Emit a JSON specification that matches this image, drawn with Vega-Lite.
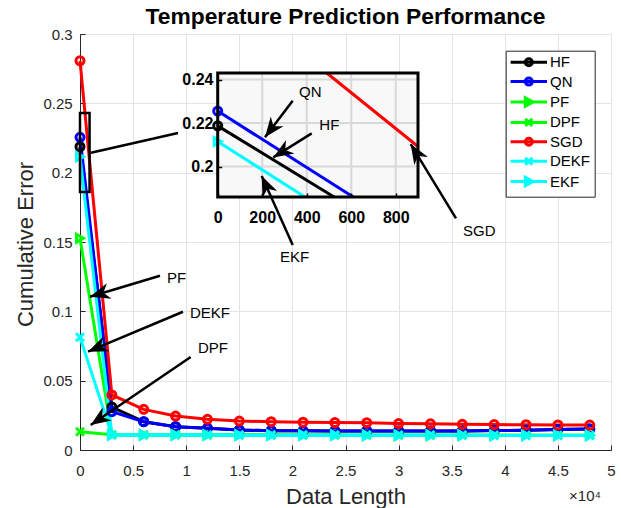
{
  "$schema": "https://vega.github.io/schema/vega-lite/v6.json",
  "width": 531,
  "height": 416,
  "autosize": {"type": "none"},
  "padding": {"left": 80, "top": 34, "right": 10, "bottom": 58},
  "background": "white",
  "config": {"view": {"stroke": null}, "font": "Liberation Sans"},
  "title": {
    "text": "Temperature Prediction Performance",
    "fontSize": 22.8,
    "fontWeight": "bold",
    "color": "black",
    "anchor": "middle",
    "baseline": "alphabetic",
    "offset": 2,
    "dy": 22
  },
  "datasets": {
    "perf": [
      {"series": "HF", "n": 0, "err": 0.2187}, {"series": "HF", "n": 3000, "err": 0.031}, {"series": "HF", "n": 6000, "err": 0.0204},
      {"series": "HF", "n": 9000, "err": 0.0168}, {"series": "HF", "n": 12000, "err": 0.0156}, {"series": "HF", "n": 15000, "err": 0.0144},
      {"series": "HF", "n": 18000, "err": 0.0139}, {"series": "HF", "n": 21000, "err": 0.0138}, {"series": "HF", "n": 24000, "err": 0.0137},
      {"series": "HF", "n": 27000, "err": 0.0137}, {"series": "HF", "n": 30000, "err": 0.0137}, {"series": "HF", "n": 33000, "err": 0.0137},
      {"series": "HF", "n": 36000, "err": 0.0137}, {"series": "HF", "n": 39000, "err": 0.014}, {"series": "HF", "n": 42000, "err": 0.0143},
      {"series": "HF", "n": 45000, "err": 0.0148}, {"series": "HF", "n": 48000, "err": 0.0152},
      {"series": "QN", "n": 0, "err": 0.2255}, {"series": "QN", "n": 3000, "err": 0.0276}, {"series": "QN", "n": 6000, "err": 0.0204},
      {"series": "QN", "n": 9000, "err": 0.0168}, {"series": "QN", "n": 12000, "err": 0.0156}, {"series": "QN", "n": 15000, "err": 0.0144},
      {"series": "QN", "n": 18000, "err": 0.0139}, {"series": "QN", "n": 21000, "err": 0.0138}, {"series": "QN", "n": 24000, "err": 0.0137},
      {"series": "QN", "n": 27000, "err": 0.0137}, {"series": "QN", "n": 30000, "err": 0.0137}, {"series": "QN", "n": 33000, "err": 0.0137},
      {"series": "QN", "n": 36000, "err": 0.0137}, {"series": "QN", "n": 39000, "err": 0.014}, {"series": "QN", "n": 42000, "err": 0.0143},
      {"series": "QN", "n": 45000, "err": 0.0148}, {"series": "QN", "n": 48000, "err": 0.0152},
      {"series": "PF", "n": 0, "err": 0.1527}, {"series": "PF", "n": 3000, "err": 0.011}, {"series": "PF", "n": 6000, "err": 0.0109},
      {"series": "PF", "n": 9000, "err": 0.0109}, {"series": "PF", "n": 12000, "err": 0.0108}, {"series": "PF", "n": 15000, "err": 0.0108},
      {"series": "PF", "n": 18000, "err": 0.0108}, {"series": "PF", "n": 21000, "err": 0.0108}, {"series": "PF", "n": 24000, "err": 0.0108},
      {"series": "PF", "n": 27000, "err": 0.0107}, {"series": "PF", "n": 30000, "err": 0.0107}, {"series": "PF", "n": 33000, "err": 0.0107},
      {"series": "PF", "n": 36000, "err": 0.0107}, {"series": "PF", "n": 39000, "err": 0.0106}, {"series": "PF", "n": 42000, "err": 0.0106},
      {"series": "PF", "n": 45000, "err": 0.0106}, {"series": "PF", "n": 48000, "err": 0.0106},
      {"series": "DPF", "n": 0, "err": 0.0132}, {"series": "DPF", "n": 3000, "err": 0.011}, {"series": "DPF", "n": 6000, "err": 0.0109},
      {"series": "DPF", "n": 9000, "err": 0.0109}, {"series": "DPF", "n": 12000, "err": 0.0108}, {"series": "DPF", "n": 15000, "err": 0.0108},
      {"series": "DPF", "n": 18000, "err": 0.0108}, {"series": "DPF", "n": 21000, "err": 0.0108}, {"series": "DPF", "n": 24000, "err": 0.0108},
      {"series": "DPF", "n": 27000, "err": 0.0107}, {"series": "DPF", "n": 30000, "err": 0.0107}, {"series": "DPF", "n": 33000, "err": 0.0107},
      {"series": "DPF", "n": 36000, "err": 0.0107}, {"series": "DPF", "n": 39000, "err": 0.0106}, {"series": "DPF", "n": 42000, "err": 0.0106},
      {"series": "DPF", "n": 45000, "err": 0.0106}, {"series": "DPF", "n": 48000, "err": 0.0106},
      {"series": "SGD", "n": 0, "err": 0.2807}, {"series": "SGD", "n": 3000, "err": 0.0397}, {"series": "SGD", "n": 6000, "err": 0.0293},
      {"series": "SGD", "n": 9000, "err": 0.0245}, {"series": "SGD", "n": 12000, "err": 0.0221}, {"series": "SGD", "n": 15000, "err": 0.0209},
      {"series": "SGD", "n": 18000, "err": 0.0204}, {"series": "SGD", "n": 21000, "err": 0.0201}, {"series": "SGD", "n": 24000, "err": 0.0198},
      {"series": "SGD", "n": 27000, "err": 0.0197}, {"series": "SGD", "n": 30000, "err": 0.0191}, {"series": "SGD", "n": 33000, "err": 0.0189},
      {"series": "SGD", "n": 36000, "err": 0.0185}, {"series": "SGD", "n": 39000, "err": 0.0183}, {"series": "SGD", "n": 42000, "err": 0.0182},
      {"series": "SGD", "n": 45000, "err": 0.0181}, {"series": "SGD", "n": 48000, "err": 0.018},
      {"series": "DEKF", "n": 0, "err": 0.0813}, {"series": "DEKF", "n": 3000, "err": 0.0108}, {"series": "DEKF", "n": 6000, "err": 0.0108},
      {"series": "DEKF", "n": 9000, "err": 0.0108}, {"series": "DEKF", "n": 12000, "err": 0.0108}, {"series": "DEKF", "n": 15000, "err": 0.0107},
      {"series": "DEKF", "n": 18000, "err": 0.0107}, {"series": "DEKF", "n": 21000, "err": 0.0107}, {"series": "DEKF", "n": 24000, "err": 0.0107},
      {"series": "DEKF", "n": 27000, "err": 0.0106}, {"series": "DEKF", "n": 30000, "err": 0.0106}, {"series": "DEKF", "n": 33000, "err": 0.0106},
      {"series": "DEKF", "n": 36000, "err": 0.0106}, {"series": "DEKF", "n": 39000, "err": 0.0105}, {"series": "DEKF", "n": 42000, "err": 0.0105},
      {"series": "DEKF", "n": 45000, "err": 0.0105}, {"series": "DEKF", "n": 48000, "err": 0.0105},
      {"series": "EKF", "n": 0, "err": 0.2115}, {"series": "EKF", "n": 3000, "err": 0.0108}, {"series": "EKF", "n": 6000, "err": 0.0108},
      {"series": "EKF", "n": 9000, "err": 0.0108}, {"series": "EKF", "n": 12000, "err": 0.0108}, {"series": "EKF", "n": 15000, "err": 0.0107},
      {"series": "EKF", "n": 18000, "err": 0.0107}, {"series": "EKF", "n": 21000, "err": 0.0107}, {"series": "EKF", "n": 24000, "err": 0.0107},
      {"series": "EKF", "n": 27000, "err": 0.0106}, {"series": "EKF", "n": 30000, "err": 0.0106}, {"series": "EKF", "n": 33000, "err": 0.0106},
      {"series": "EKF", "n": 36000, "err": 0.0106}, {"series": "EKF", "n": 39000, "err": 0.0105}, {"series": "EKF", "n": 42000, "err": 0.0105},
      {"series": "EKF", "n": 45000, "err": 0.0105}, {"series": "EKF", "n": 48000, "err": 0.0105}
    ],
    "inset": [
      {"series": "HF", "n": 0, "err": 0.2187}, {"series": "HF", "n": 523, "err": 0.186},
      {"series": "QN", "n": 0, "err": 0.2255}, {"series": "QN", "n": 609, "err": 0.186},
      {"series": "SGD", "n": 490, "err": 0.243}, {"series": "SGD", "n": 900, "err": 0.2092},
      {"series": "EKF", "n": 0, "err": 0.2115}, {"series": "EKF", "n": 392, "err": 0.186}
    ],
    "arrows": [
      {"label": "PF", "tx": 7533, "ty": 0.1257, "hx": 942, "hy": 0.1105, "lx": 8192, "ly": 0.124},
      {"label": "DEKF", "tx": 9698, "ty": 0.0997, "hx": 753, "hy": 0.0709, "lx": 10358, "ly": 0.099},
      {"label": "DPF", "tx": 10424, "ty": 0.0671, "hx": 1008, "hy": 0.018, "lx": 11111, "ly": 0.0733},
      {"label": "QN", "tx": 20028, "ty": 0.2518, "hx": 17420, "hy": 0.2255, "lx": 20621, "ly": 0.2583},
      {"label": "HF", "tx": 21817, "ty": 0.2283, "hx": 18201, "hy": 0.211, "lx": 22533, "ly": 0.2343},
      {"label": "EKF", "tx": 20028, "ty": 0.1478, "hx": 17109, "hy": 0.1976, "lx": 18832, "ly": 0.1389},
      {"label": "SGD", "tx": 35404, "ty": 0.1671, "hx": 31139, "hy": 0.2206, "lx": 36064, "ly": 0.1579}
    ],
    "links": [
      {"x1": 1036, "y1": 0.2144, "x2": 9228, "y2": 0.2286}
    ]
  },
  "layer": [
    {
      "layer": [
        {
          "data": {"name": "perf"},
          "mark": {"type": "line", "strokeWidth": 3},
          "encoding": {
            "x": {
              "field": "n",
              "type": "quantitative",
              "scale": {"domain": [0, 50000], "nice": false, "zero": false},
              "axis": {
                "values": [0, 5000, 10000, 15000, 20000, 25000, 30000, 35000, 40000, 45000, 50000],
                "labelExpr": "'' + datum.value / 10000",
                "grid": true,
                "gridColor": "#e3e3e3",
                "domainColor": "#262626",
                "tickColor": "#262626",
                "tickSize": -5,
                "labelPadding": 18.6,
                "labelFontSize": 15,
                "labelColor": "#262626",
                "labelFlush": false,
                "labelOverlap": false,
                "title": "Data Length",
                "titleFontSize": 22,
                "titleFontWeight": "normal",
                "titleColor": "#262626",
                "titleY": 53,
                "titleBaseline": "alphabetic"
              }
            },
            "y": {
              "field": "err",
              "type": "quantitative",
              "scale": {"domain": [0, 0.3], "nice": false},
              "axis": {
                "values": [0, 0.05, 0.1, 0.15, 0.2, 0.25, 0.3],
                "labelExpr": "'' + datum.value",
                "grid": true,
                "gridColor": "#e3e3e3",
                "domainColor": "#262626",
                "tickColor": "#262626",
                "tickSize": -5,
                "labelPadding": 12.8,
                "labelFontSize": 15,
                "labelColor": "#262626",
                "labelFlush": false,
                "labelOverlap": false,
                "title": "Cumulative Error",
                "titleFontSize": 22,
                "titleFontWeight": "normal",
                "titleColor": "#262626",
                "titleAngle": 270,
                "titleAlign": "center",
                "titleBaseline": "alphabetic",
                "titleX": -47.5,
                "titleY": 210
              }
            },
            "color": {
              "field": "series",
              "type": "nominal",
              "scale": {
                "domain": ["HF", "QN", "PF", "DPF", "SGD", "DEKF", "EKF"],
                "range": ["#000000", "#0000ff", "#00ff00", "#00ff00", "#ff0000", "#00ffff", "#00ffff"]
              }
            }
          }
        },
        {
          "data": {"name": "perf"},
          "transform": [{"filter": {"field": "series", "oneOf": ["HF", "QN", "SGD"]}}],
          "mark": {"type": "point", "shape": "circle", "filled": false, "size": 64, "strokeWidth": 3, "opacity": 1},
          "encoding": {
            "x": {"field": "n", "type": "quantitative"},
            "y": {"field": "err", "type": "quantitative"},
            "color": {"field": "series", "type": "nominal"}
          }
        },
        {
          "data": {"name": "perf"},
          "transform": [{"filter": {"field": "series", "oneOf": ["DPF", "DEKF"]}}],
          "mark": {"type": "point", "shape": "M-1,-1L1,1M-1,1L1,-1", "filled": false, "size": 64, "strokeWidth": 3, "opacity": 1},
          "encoding": {
            "x": {"field": "n", "type": "quantitative"},
            "y": {"field": "err", "type": "quantitative"},
            "color": {"field": "series", "type": "nominal"}
          }
        },
        {
          "data": {"name": "perf"},
          "transform": [{"filter": {"field": "series", "oneOf": ["PF", "EKF"]}}],
          "mark": {"type": "point", "shape": "triangle-right", "filled": false, "size": 64, "strokeWidth": 3, "opacity": 1},
          "encoding": {
            "x": {"field": "n", "type": "quantitative"},
            "y": {"field": "err", "type": "quantitative"},
            "color": {"field": "series", "type": "nominal"}
          }
        },
        {
          "data": {"name": "perf"},
          "transform": [{"filter": "datum.n == 0"}],
          "mark": {"type": "point", "filled": false, "size": 49, "strokeWidth": 3, "opacity": 0},
          "encoding": {
            "x": {"field": "n", "type": "quantitative"},
            "y": {"field": "err", "type": "quantitative"},
            "color": {
              "field": "series",
              "type": "nominal",
              "legend": {
                "orient": "none", "legendX": 425.7, "legendY": 16.7, "title": null,
                "padding": 4, "rowPadding": 0.4, "strokeColor": "#262626", "fillColor": "white",
                "labelFontSize": 15, "labelColor": "black",
                "symbolSize": 49, "symbolStrokeWidth": 3, "symbolOpacity": 1,
                "symbolOffset": 11.6, "labelOffset": 13.7
              }
            },
            "shape": {
              "field": "series",
              "type": "nominal",
              "scale": {
                "domain": ["HF", "QN", "PF", "DPF", "SGD", "DEKF", "EKF"],
                "range": [
                  "M-5.2,0H5.2M1,0A1,1,0,1,1,-1,0A1,1,0,1,1,1,0",
                  "M-5.2,0H5.2M1,0A1,1,0,1,1,-1,0A1,1,0,1,1,1,0",
                  "M-5.2,0H5.2M-1,-1.2L1.2,0L-1,1.2Z",
                  "M-5.2,0H5.2M-1,-1L1,1M-1,1L1,-1",
                  "M-5.2,0H5.2M1,0A1,1,0,1,1,-1,0A1,1,0,1,1,1,0",
                  "M-5.2,0H5.2M-1,-1L1,1M-1,1L1,-1",
                  "M-5.2,0H5.2M-1,-1.2L1.2,0L-1,1.2Z"
                ]
              },
              "legend": {
                "orient": "none", "legendX": 425.7, "legendY": 16.7, "title": null,
                "padding": 4, "rowPadding": 0.4, "strokeColor": "#262626", "fillColor": "white",
                "labelFontSize": 15, "labelColor": "black",
                "symbolSize": 49, "symbolStrokeWidth": 3, "symbolOpacity": 1,
                "symbolOffset": 11.6, "labelOffset": 13.7
              }
            }
          }
        },
        {
          "data": {"values": [{}]},
          "mark": {"type": "rect", "filled": false, "stroke": "black", "strokeWidth": 2.5},
          "encoding": {
            "x": {"datum": 0, "type": "quantitative"},
            "x2": {"datum": 900},
            "y": {"datum": 0.186, "type": "quantitative"},
            "y2": {"datum": 0.243}
          }
        },
        {
          "data": {"name": "links"},
          "mark": {"type": "rule", "strokeWidth": 2.5, "color": "black"},
          "encoding": {
            "x": {"field": "x1", "type": "quantitative"},
            "x2": {"field": "x2"},
            "y": {"field": "y1", "type": "quantitative"},
            "y2": {"field": "y2"}
          }
        },
        {
          "data": {"values": [{}]},
          "mark": {"type": "text", "text": "×10⁴", "align": "right", "baseline": "alphabetic", "dx": -10, "dy": 51, "fontSize": 15, "color": "#262626"},
          "encoding": {
            "x": {"datum": 50000, "type": "quantitative"},
            "y": {"datum": 0, "type": "quantitative"}
          }
        }
      ]
    },
    {
      "layer": [
        {
          "data": {"values": [{}]},
          "mark": {"type": "rect", "fill": "#f8f8f8", "strokeWidth": 0},
          "encoding": {
            "x": {
              "datum": 0,
              "type": "quantitative",
              "scale": {"domain": [0, 900], "range": [137.7, 338], "nice": false, "zero": false},
              "axis": {
                "orient": "bottom",
                "offset": -253,
                "values": [0, 200, 400, 600, 800],
                "grid": false,
                "domain": false,
                "tickSize": -4,
                "tickWidth": 1.5,
                "tickColor": "black",
                "labelPadding": 16,
                "labelFontSize": 16,
                "labelFontWeight": "bold",
                "labelColor": "black",
                "labelFlush": false,
                "labelOverlap": false,
                "title": null,
                "zindex": 2
              }
            },
            "x2": {"datum": 900},
            "y": {
              "datum": 0.186,
              "type": "quantitative",
              "scale": {"domain": [0.186, 0.243], "range": [163, 39], "nice": false, "zero": false},
              "axis": {
                "orient": "left",
                "offset": -137.7,
                "values": [0.2, 0.22, 0.24],
                "labelExpr": "'' + datum.value",
                "grid": false,
                "domain": false,
                "tickSize": -4,
                "tickWidth": 1.5,
                "tickColor": "black",
                "labelPadding": 8.7,
                "labelFontSize": 16,
                "labelFontWeight": "bold",
                "labelColor": "black",
                "labelFlush": false,
                "labelOverlap": false,
                "title": null,
                "zindex": 2
              }
            },
            "y2": {"datum": 0.243}
          }
        },
        {
          "data": {"values": [{"g": 200}, {"g": 400}, {"g": 600}, {"g": 800}]},
          "mark": {"type": "rule", "color": "#d8d8d8", "strokeWidth": 2},
          "encoding": {
            "x": {"field": "g", "type": "quantitative"},
            "y": {"datum": 0.186, "type": "quantitative"},
            "y2": {"datum": 0.243}
          }
        },
        {
          "data": {"values": [{"g": 0.2}, {"g": 0.22}, {"g": 0.24}]},
          "mark": {"type": "rule", "color": "#d8d8d8", "strokeWidth": 2},
          "encoding": {
            "y": {"field": "g", "type": "quantitative"},
            "x": {"datum": 0, "type": "quantitative"},
            "x2": {"datum": 900}
          }
        },
        {
          "data": {"name": "inset"},
          "mark": {"type": "line", "strokeWidth": 3},
          "encoding": {
            "x": {"field": "n", "type": "quantitative"},
            "y": {"field": "err", "type": "quantitative"},
            "color": {"field": "series", "type": "nominal"}
          }
        },
        {
          "data": {"name": "inset"},
          "transform": [{"filter": "datum.n == 0 && datum.series != 'EKF'"}],
          "mark": {"type": "point", "shape": "circle", "filled": false, "size": 64, "strokeWidth": 3, "opacity": 1},
          "encoding": {
            "x": {"field": "n", "type": "quantitative"},
            "y": {"field": "err", "type": "quantitative"},
            "color": {"field": "series", "type": "nominal"}
          }
        },
        {
          "data": {"name": "inset"},
          "transform": [{"filter": "datum.n == 0 && datum.series == 'EKF'"}],
          "mark": {"type": "point", "shape": "triangle-right", "filled": false, "size": 64, "strokeWidth": 3, "opacity": 1},
          "encoding": {
            "x": {"field": "n", "type": "quantitative"},
            "y": {"field": "err", "type": "quantitative"},
            "color": {"field": "series", "type": "nominal"}
          }
        },
        {
          "data": {"values": [{}]},
          "mark": {"type": "rect", "filled": false, "stroke": "black", "strokeWidth": 3},
          "encoding": {
            "x": {"datum": 0, "type": "quantitative"},
            "x2": {"datum": 900},
            "y": {"datum": 0.186, "type": "quantitative"},
            "y2": {"datum": 0.243}
          }
        }
      ]
    },
    {
      "data": {"name": "arrows"},
      "layer": [
        {
          "mark": {"type": "rule", "strokeWidth": 2.5, "color": "black"},
          "encoding": {
            "x": {"field": "tx", "type": "quantitative", "scale": {"domain": [0, 50000], "nice": false, "zero": false}, "axis": null},
            "x2": {"field": "hx"},
            "y": {"field": "ty", "type": "quantitative", "scale": {"domain": [0, 0.3], "nice": false}, "axis": null},
            "y2": {"field": "hy"}
          }
        },
        {
          "mark": {
            "type": "point",
            "shape": "M0,0L-0.8,2L0,1.4L0.8,2Z",
            "filled": true,
            "color": "black",
            "strokeWidth": 0,
            "size": 400,
            "opacity": 1,
            "angle": {"expr": "atan2((datum.hx - datum.tx) * width / 50000, (datum.hy - datum.ty) * height / 0.3) * 180 / PI"}
          },
          "encoding": {
            "x": {"field": "hx", "type": "quantitative"},
            "y": {"field": "hy", "type": "quantitative"}
          }
        },
        {
          "mark": {"type": "text", "align": "left", "baseline": "middle", "fontSize": 15, "color": "black"},
          "encoding": {
            "x": {"field": "lx", "type": "quantitative"},
            "y": {"field": "ly", "type": "quantitative"},
            "text": {"field": "label"}
          }
        }
      ]
    }
  ],
  "resolve": {"scale": {"x": "independent", "y": "independent"}}
}
